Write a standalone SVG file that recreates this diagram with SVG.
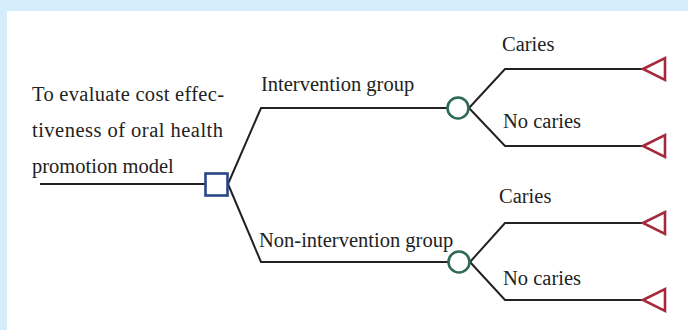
<svg xmlns="http://www.w3.org/2000/svg" width="688" height="330" viewBox="0 0 688 330">
<style>
text{font-family:'Liberation Serif','Times New Roman','DejaVu Serif',serif;font-size:20.5px;fill:#222}
.ln{fill:none;stroke:#222;stroke-width:2;stroke-linejoin:miter}
.dec{fill:#fff;stroke:#2a4687;stroke-width:2.6}
.chn{fill:#fff;stroke:#2e6a58;stroke-width:2.6}
.end{fill:#fff;stroke:#a52a3c;stroke-width:2.6;stroke-linejoin:miter}
</style>
<rect x="0" y="0" width="688" height="330" fill="#d5ecfa"/>
<rect x="7" y="11" width="681" height="319" fill="#fff"/>
<g id="connectors">
<path class="ln" d="M40 184 H205"/>
<path class="ln" d="M228 184 L261 108 H447"/>
<path class="ln" d="M228 184 L261 262 H448"/>
<path class="ln" d="M469 108 L505 69 H643"/>
<path class="ln" d="M469 108 L505 146 H643"/>
<path class="ln" d="M470 262 L505 223 H643"/>
<path class="ln" d="M470 262 L505 300 H643"/>
</g>
<g id="question">
<text x="32" y="101" textLength="192" lengthAdjust="spacing">To evaluate cost effec-</text>
<text x="32" y="137" textLength="191" lengthAdjust="spacing">tiveness of oral health</text>
<text x="32" y="173">promotion model</text>
</g>
<g id="decision"><rect class="dec" x="205.5" y="173.5" width="22" height="22"/></g>
<g id="intervention">
<text x="261" y="91">Intervention group</text>
<circle class="chn" cx="458" cy="108" r="10.5"/>
</g>
<g id="nonintervention">
<text x="259" y="247">Non-intervention group</text>
<circle class="chn" cx="459" cy="262" r="10.5"/>
</g>
<g id="caries1"><text x="502" y="51">Caries</text><polygon class="end" points="643,69 665,58 665,80"/></g>
<g id="nocaries1"><text x="503" y="128">No caries</text><polygon class="end" points="643,146 665,135 665,157"/></g>
<g id="caries2"><text x="499" y="203">Caries</text><polygon class="end" points="643,223 665,212 665,234"/></g>
<g id="nocaries2"><text x="503" y="285">No caries</text><polygon class="end" points="643,300 665,289 665,311"/></g>
</svg>
